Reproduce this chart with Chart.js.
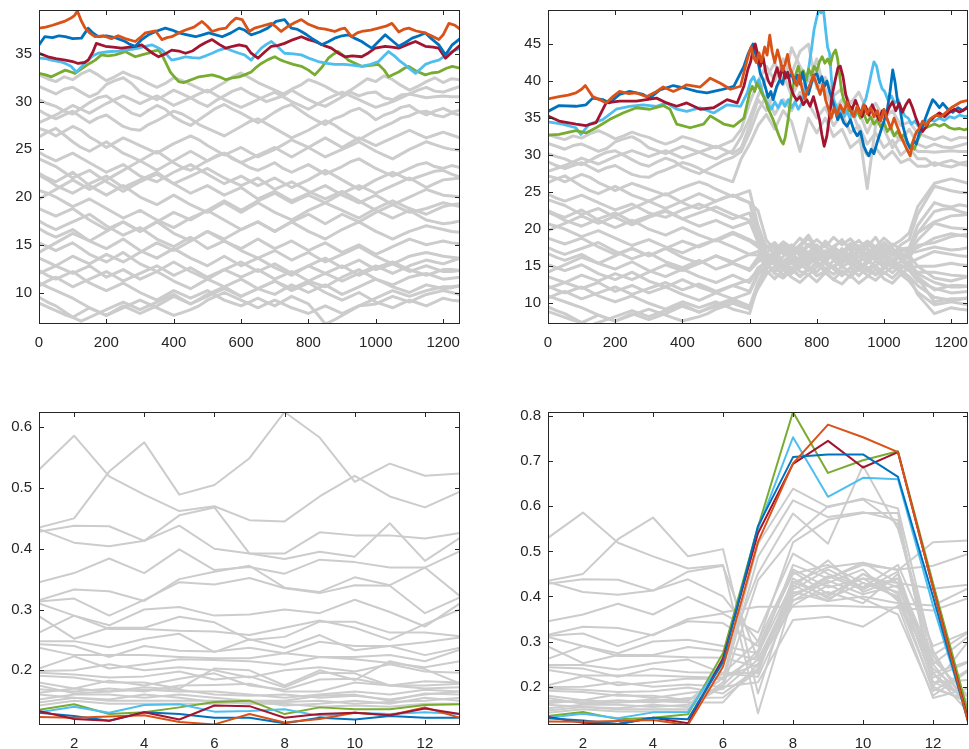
<!DOCTYPE html>
<html>
<head>
<meta charset="utf-8">
<script src="https://cdn.jsdelivr.net/npm/chart.js@4.4.1/dist/chart.umd.min.js"></script>
<style>
html, body { margin: 0; padding: 0; background: #ffffff; }
#wrap { position: relative; width: 969px; height: 749px; overflow: hidden; }
canvas { position: absolute; }
</style>
</head>
<body>
<div id="wrap">
  <canvas id="calmPrices" width="480" height="360" style="left:0px;top:0px"></canvas>
  <canvas id="stressPrices" width="469" height="360" style="left:500px;top:0px"></canvas>
  <canvas id="calmVol" width="480" height="349" style="left:0px;top:400px"></canvas>
  <canvas id="stressVol" width="469" height="349" style="left:500px;top:400px"></canvas>
</div>
<script>
// ---------- axis ticks ----------
const timeTicks = [0, 200, 400, 600, 800, 1000, 1200];
const calmPriceTicks = [10, 15, 20, 25, 30, 35];
const stressPriceTicks = [10, 15, 20, 25, 30, 35, 40, 45];
const windowTicks = [2, 4, 6, 8, 10, 12];
const calmVolTicks = [0.2, 0.3, 0.4, 0.5, 0.6];
const stressVolTicks = [0.2, 0.3, 0.4, 0.5, 0.6, 0.7, 0.8];

// ---------- price paths, background assets (sampled every 25 steps) ----------
const priceSteps = [0,25,50,75,100,125,150,175,200,225,250,275,300,325,350,375,400,425,450,475,500,525,550,575,600,625,650,675,700,725,750,775,800,825,850,875,900,925,950,975,1000,1025,1050,1075,1100,1125,1150,1175,1200,1225,1250];
const grayPrices = [
  [32.8,32.4,32.1,32.6,32.3,32.9,33.3,32.8,32.2,32.6,33.1,32.7,32.4,31.9,31.5,31.9,32.5,32.2,31.8,31.4,31.0,31.5,32.0,32.6,33.0,32.5,32.0,31.6,31.2,30.8,31.3,31.7,32.3,32.0,31.6,31.1,30.7,31.2,31.8,32.4,32.1,32.7,32.3,31.7,31.2,31.6,32.1,32.5,32.0,32.4,32.3],
  [31.6,31.2,30.8,31.3,31.5,31.0,30.5,30.9,31.8,32.2,32.5,31.9,31.0,30.6,30.2,30.7,31.2,30.8,30.4,29.9,29.5,30.1,30.6,31.1,31.4,30.9,30.5,30.0,30.3,30.6,31.2,30.7,30.2,29.8,29.5,30.0,30.5,31.0,30.6,30.9,31.0,30.4,30.2,30.7,30.8,31.2,31.5,31.1,31.0,31.3,31.6],
  [30.2,29.8,29.5,29.0,28.7,29.3,29.9,30.4,30.6,30.0,29.4,28.8,28.5,29.1,29.6,29.2,28.4,27.9,27.5,28.1,28.7,29.3,29.7,29.2,28.8,28.3,27.8,28.3,28.9,29.4,29.7,29.1,28.5,28.0,27.6,28.2,28.5,29.0,29.3,28.8,28.1,28.6,28.9,29.4,29.6,29.0,28.6,29.0,29.3,28.9,29.1],
  [29.1,28.6,28.2,28.6,29.0,28.4,27.8,28.3,28.6,28.0,27.4,27.1,27.0,27.6,28.0,28.5,29.0,28.7,28.2,27.6,27.2,26.8,26.4,26.9,27.4,27.9,28.2,27.7,27.2,26.7,26.2,26.6,27.0,27.5,28.0,27.6,27.0,26.5,26.0,26.5,27.0,27.4,27.8,28.3,28.5,28.9,29.0,28.6,28.4,28.8,28.6],
  [27.2,26.9,26.4,26.9,27.4,27.0,26.3,25.8,25.2,25.7,26.2,25.8,25.4,25.0,24.6,25.1,25.6,26.0,26.4,26.0,25.4,24.9,24.4,24.8,25.2,24.7,24.2,24.6,25.0,25.5,26.0,25.6,25.2,24.7,24.2,24.6,25.0,25.4,25.8,25.3,24.8,24.4,24.0,24.5,25.0,25.4,25.8,25.5,25.2,25.0,24.9],
  [26.3,26.8,27.2,26.5,25.8,25.2,24.8,25.3,25.8,25.2,24.6,24.2,23.8,24.3,24.8,24.2,23.6,23.1,22.8,23.3,23.8,24.3,24.6,24.0,23.6,23.1,22.8,23.2,23.6,23.0,22.6,23.0,23.4,22.9,22.4,22.8,23.2,23.7,24.0,23.5,23.0,22.6,22.2,22.6,23.0,23.4,23.6,23.2,23.0,23.3,23.1],
  [24.7,24.2,23.8,24.2,24.6,24.1,23.6,23.1,22.6,23.0,23.4,22.8,22.2,21.9,21.6,22.1,22.6,23.0,23.4,22.9,22.4,21.9,21.4,21.8,22.2,21.7,21.2,21.6,22.0,21.5,21.0,21.4,21.8,22.3,22.8,22.3,21.8,21.3,20.8,21.3,21.8,22.2,22.6,22.2,21.8,22.1,22.4,22.7,22.8,22.4,22.1],
  [24.0,23.6,23.2,22.6,22.0,22.4,22.8,22.2,21.6,21.1,20.6,21.1,21.6,22.0,22.4,21.9,21.4,20.9,20.4,20.8,21.2,20.7,20.2,20.6,21.0,20.4,19.8,20.2,20.6,20.1,19.6,20.0,20.4,20.8,21.2,20.7,20.2,19.8,19.4,19.8,20.2,19.7,19.2,19.6,20.0,20.4,20.8,20.5,20.2,20.1,20.0],
  [22.5,22.0,21.6,22.1,22.6,21.9,21.2,20.7,20.2,20.7,21.2,20.6,20.0,19.6,19.2,19.7,20.2,19.7,19.2,18.8,18.4,18.9,19.4,18.9,18.4,18.9,19.4,18.9,18.4,18.0,17.6,18.1,18.6,19.0,19.4,19.0,18.6,18.2,17.8,18.3,18.8,19.2,19.6,19.2,18.8,18.5,18.2,18.6,19.0,19.2,19.3],
  [22.3,21.8,21.2,20.8,20.4,20.9,21.4,21.8,22.2,21.6,21.0,21.4,21.8,22.2,22.6,22.0,21.4,21.8,22.2,22.6,23.0,22.5,22.0,21.6,21.2,21.6,22.0,21.4,20.8,21.2,21.6,21.1,20.6,20.2,19.8,20.2,20.6,20.1,19.6,19.1,18.6,18.2,17.8,18.2,18.6,18.1,17.6,17.4,17.2,17.3,17.5],
  [20.7,20.4,20.0,19.5,19.0,19.4,19.8,19.3,18.8,18.3,17.8,18.2,18.6,18.1,17.6,17.2,16.8,17.3,17.8,18.2,18.6,18.1,17.6,17.1,16.6,17.0,17.4,16.9,16.4,16.9,17.4,16.9,16.4,16.0,15.6,16.1,16.6,17.0,17.4,16.9,16.4,16.0,15.6,16.0,16.4,16.7,17.0,16.8,16.6,16.4,16.3],
  [18.8,18.4,18.0,18.4,18.8,18.2,17.6,17.1,16.6,17.0,17.4,16.9,16.4,16.9,17.4,16.8,16.2,15.8,15.4,15.9,16.4,15.9,15.4,15.0,14.6,15.1,15.6,15.1,14.6,15.0,15.4,14.9,14.4,14.8,15.2,14.7,14.2,14.6,15.0,14.5,14.0,14.4,14.8,15.2,15.6,15.3,15.0,15.2,15.4,15.2,15.1],
  [17.5,17.0,16.6,17.0,17.4,17.8,18.2,17.6,17.0,16.5,16.0,16.4,16.8,16.2,15.6,15.2,14.8,15.3,15.8,15.2,14.6,15.0,15.4,14.9,14.4,14.0,13.6,14.0,14.4,13.9,13.4,13.8,14.2,13.7,13.2,13.6,14.0,14.4,14.8,14.3,13.8,13.4,13.0,13.4,13.8,14.0,14.2,14.0,13.8,13.7,13.6],
  [16.7,16.2,15.8,16.2,16.6,16.0,15.4,15.0,14.6,15.1,15.6,15.0,14.4,14.0,13.6,14.1,14.6,14.1,13.6,13.2,12.8,13.3,13.8,13.3,12.8,13.2,13.6,13.1,12.6,12.2,11.8,12.3,12.8,12.4,12.0,12.4,12.8,12.3,11.8,12.2,12.6,12.9,13.2,12.8,12.4,12.1,11.8,12.1,12.4,12.4,12.3],
  [15.2,14.8,14.4,14.8,15.2,14.6,14.0,13.6,13.2,13.7,14.2,13.6,13.0,12.6,12.2,12.7,13.2,12.7,12.2,11.8,11.4,11.9,12.4,12.0,11.6,12.0,12.4,11.9,11.4,11.8,12.2,11.7,11.2,10.9,10.6,11.1,11.6,12.0,12.4,11.9,11.4,11.1,10.8,11.2,11.6,11.8,12.0,11.7,11.4,11.5,11.6],
  [13.6,13.2,12.8,12.4,12.0,12.4,12.8,12.2,11.6,12.0,12.4,11.9,11.4,11.8,12.2,11.7,11.2,10.8,10.4,10.9,11.4,11.0,10.6,11.0,11.4,10.9,10.4,10.1,9.8,10.3,10.8,10.4,10.0,10.4,10.8,10.3,9.8,10.2,10.6,11.0,11.4,11.0,10.6,10.3,10.0,10.4,10.8,10.6,10.4,10.5,10.7],
  [12.3,11.8,11.4,11.8,12.2,11.6,11.0,10.6,10.2,10.6,11.0,10.5,10.0,9.6,9.2,9.7,10.2,9.8,9.4,9.8,10.2,9.7,9.2,8.9,8.6,9.0,9.4,9.0,8.6,9.1,9.6,9.2,8.8,7.8,6.7,7.1,7.6,8.1,8.6,8.7,8.8,9.2,9.6,9.3,9.0,9.4,9.8,10.0,10.2,10.0,9.8],
  [11.0,10.6,10.2,9.8,9.4,8.9,8.4,8.0,7.6,8.1,8.6,8.2,7.8,8.2,8.6,9.1,9.6,9.2,8.8,9.3,9.8,10.2,10.6,10.1,9.6,10.0,10.4,10.8,11.2,10.7,10.2,10.6,11.0,10.5,10.0,9.6,9.2,9.6,10.0,9.5,9.0,8.7,8.4,8.8,9.2,8.9,8.6,9.0,9.4,9.2,9.1],
  [10.7,11.2,11.6,11.1,10.6,11.0,11.4,11.8,12.2,11.7,11.2,11.6,12.0,12.4,12.8,12.3,11.8,12.2,12.6,12.1,11.6,12.0,12.4,12.8,13.2,12.7,12.2,12.6,13.0,12.5,12.0,12.4,12.8,13.2,13.6,13.1,12.6,13.0,13.4,12.9,12.4,12.7,13.0,12.6,12.2,12.5,12.8,12.5,12.2,12.2,12.3],
  [9.5,9.0,8.6,8.0,7.4,7.0,7.4,7.8,8.2,8.6,9.0,8.6,8.2,8.6,9.0,9.4,9.8,9.3,8.8,9.2,9.6,10.0,10.4,10.0,9.6,10.0,10.4,10.8,11.2,10.8,10.4,10.8,11.2,11.6,12.0,11.6,11.2,11.6,12.0,12.4,12.8,12.4,12.0,12.4,12.8,13.1,13.4,13.2,13.0,13.3,13.6],
  [8.9,8.5,8.1,7.7,7.4,7.9,8.4,8.0,7.6,8.0,8.4,8.8,9.2,8.8,8.4,8.0,7.6,7.9,8.2,8.6,9.2,9.6,10.0,9.6,9.2,8.8,8.4,8.8,9.2,8.8,8.4,8.1,7.8,8.2,8.6,8.2,7.8,8.2,8.6,9.0,9.4,9.8,10.2,9.9,9.6,9.9,10.2,10.4,10.6,10.6,10.7],
  [19.8,20.3,20.8,21.3,21.8,21.3,20.8,21.3,21.8,22.3,22.8,23.3,23.8,23.3,22.8,23.3,23.8,24.3,24.8,24.3,23.8,24.2,24.6,24.1,23.6,24.0,24.4,24.8,25.2,24.7,24.2,24.7,25.2,25.7,26.2,25.7,25.2,25.7,26.2,25.8,25.4,25.8,26.2,26.6,27.0,26.6,26.2,26.5,26.8,26.5,26.2],
  [14.2,14.7,15.2,15.7,16.2,15.8,15.4,15.9,16.4,16.9,17.4,16.9,16.4,16.9,17.4,17.9,18.4,18.0,17.6,18.1,18.6,19.1,19.6,19.1,18.6,19.1,19.6,20.0,20.4,19.9,19.4,19.8,20.2,19.8,19.4,19.9,20.4,20.8,21.2,20.8,20.4,20.8,21.2,21.6,22.0,21.5,21.0,21.4,21.8,21.9,22.0],
  [27.8,28.2,28.6,29.1,29.6,29.2,28.8,29.3,29.8,30.2,30.6,30.2,29.8,30.2,30.6,30.1,29.6,30.0,30.4,30.8,31.2,30.7,30.2,29.8,29.4,29.8,30.2,30.6,31.0,30.5,30.0,29.6,29.2,29.7,30.2,30.6,31.0,30.6,30.2,29.8,29.4,29.7,30.0,30.4,30.8,30.6,30.4,30.5,30.6,30.5,30.5],
  [12.0,12.4,12.8,13.3,13.8,13.4,13.0,13.5,14.0,13.6,13.2,13.7,14.2,14.7,15.2,14.8,14.4,14.9,15.4,15.9,16.4,16.0,15.6,16.1,16.6,17.0,17.4,16.9,16.4,16.9,17.4,17.8,18.2,17.7,17.2,17.7,18.2,17.8,17.4,17.9,18.4,18.8,19.2,18.8,18.4,18.6,18.8,19.1,19.4,19.2,19.0]
];

// stressed period: assets that rally with the highlighted group (rows 0,1,2,3,23)
const rallyRows = [0, 1, 2, 3, 23];
const rallySteps = [575,600,625,650,675,700,725,750,775,800,825,850,875,900,925,950,975,1000,1025,1050,1075,1100,1125];
const rallyPrices = [
  [33.5,37.0,40.0,42.0,40.0,43.0,41.0,44.0,45.0,39.0,40.5,38.0,39.0,37.0,38.5,36.0,37.0,35.0,36.0,34.0,34.5,33.0,32.5],
  [32.5,35.0,38.0,40.5,42.5,39.5,44.5,42.0,40.0,43.0,38.0,37.0,35.0,36.5,33.5,25.5,34.0,36.0,33.0,32.0,33.5,31.5,31.0],
  [30.5,33.0,36.0,38.0,35.5,37.5,36.0,38.5,37.0,35.0,36.5,34.0,35.5,33.0,34.0,31.5,33.0,31.0,32.0,30.0,31.0,29.5,29.5],
  [29.5,31.5,34.0,35.5,33.5,36.0,34.5,30.5,35.0,33.0,35.0,32.5,33.5,31.0,32.0,30.0,31.0,29.5,30.5,29.0,29.5,28.5,28.5],
  [31.0,34.0,37.5,36.0,38.5,41.0,38.0,40.0,38.5,41.5,39.0,36.0,37.5,35.0,36.0,33.0,35.5,33.5,31.0,32.5,31.5,30.5,30.5]
];
// stressed period: all other background assets pulled into a tight band
const bandSteps = [625,650,675,700,725,750,775,800,825,850,875,900,925,950,975,1000,1025,1050,1075,1100];
const bandPrices = [
  [20.5,17.4,18.2,16.8,17.6,16.4,17.8,16.9,18.4,17.2,16.5,17.8,16.8,17.5,16.2,17.3,16.6,17.9,18.6,22.0],
  [19.5,16.8,15.9,17.2,16.1,17.5,16.3,15.6,16.8,15.9,17.4,16.2,15.5,16.7,17.6,16.0,15.4,16.9,17.5,20.5],
  [19.0,16.2,17.0,15.6,16.6,15.3,16.4,17.3,15.9,16.8,15.6,16.9,17.8,15.8,16.5,15.2,16.8,16.0,17.0,19.5],
  [18.2,15.6,16.6,17.6,15.4,16.2,15.1,16.3,15.4,17.0,16.1,15.2,16.4,15.5,17.1,16.3,15.3,16.5,16.8,18.5],
  [17.6,16.0,15.2,16.3,17.4,16.6,15.5,16.8,17.9,16.2,15.3,16.5,15.6,16.9,15.8,16.6,17.5,15.9,16.2,17.8],
  [19.2,17.8,16.6,18.1,16.9,17.9,19.2,17.4,16.3,17.5,18.6,17.1,16.2,17.6,18.9,17.2,16.4,17.3,16.8,17.0],
  [17.0,15.4,16.5,15.2,16.1,14.8,15.7,16.6,15.3,14.9,16.2,15.4,14.6,15.8,15.0,16.3,15.1,14.7,15.4,16.0],
  [16.2,15.1,14.3,15.5,14.6,15.8,14.9,14.2,15.6,14.8,15.9,16.7,15.2,14.5,15.7,14.9,15.8,15.1,14.6,15.0],
  [15.6,16.5,15.4,14.6,15.9,15.1,16.2,15.3,14.5,15.8,14.9,15.6,14.4,15.4,16.4,15.5,14.8,15.7,15.0,14.2],
  [14.8,15.5,14.2,15.1,14.0,15.3,14.4,15.6,14.7,13.9,15.0,14.1,15.2,14.3,15.1,14.0,14.9,14.2,14.6,13.6],
  [14.2,14.9,15.8,14.5,15.5,14.3,13.8,14.9,15.9,14.6,13.7,14.8,15.7,14.4,13.9,15.0,14.1,15.2,14.4,13.0],
  [13.8,15.2,14.0,13.4,14.5,13.6,14.8,13.7,14.3,13.2,14.4,13.5,14.7,13.8,13.1,14.2,13.4,14.5,13.6,12.4],
  [12.5,14.4,13.3,14.6,13.5,12.8,13.9,12.9,14.1,13.2,12.6,13.8,12.7,13.6,14.6,13.3,12.7,13.9,13.0,11.5],
  [12.0,13.9,15.0,13.8,14.9,13.6,14.5,15.4,14.2,15.1,13.9,14.8,13.7,14.9,13.8,14.7,15.6,14.3,13.5,11.2],
  [14.5,15.8,16.8,15.6,16.7,15.8,16.9,15.9,17.1,16.2,17.3,16.1,17.2,16.4,17.5,16.3,17.1,16.0,15.5,14.0],
  [12.8,15.0,16.2,17.4,16.5,17.6,18.8,17.3,16.6,17.7,18.4,17.5,16.9,18.1,17.0,18.2,17.3,16.6,16.5,15.0],
  [12.2,14.6,16.0,15.1,16.4,17.2,16.1,17.0,16.3,17.6,16.5,15.8,17.0,16.1,17.3,16.6,15.9,16.8,16.0,13.5],
  [22.5,18.5,17.2,18.3,17.5,18.8,17.7,18.6,17.6,18.9,17.9,18.7,17.5,18.4,17.6,18.8,17.8,18.5,19.5,23.0],
  [18.0,16.8,17.8,16.7,17.9,16.9,18.0,17.1,16.4,17.6,16.8,18.1,17.2,16.5,17.7,16.9,18.0,17.3,17.5,19.5],
  [16.5,15.8,16.9,17.8,16.6,17.7,16.8,17.9,16.7,17.5,16.4,17.6,18.5,17.3,16.6,17.8,16.9,17.4,17.2,17.5]
];

// ---------- highlighted assets, calm scenario: [step, price] ----------
const orangeCalm = [[0,37.7],[20,37.8],[40,38.0],[57,38.2],[75,38.4],[95,38.75],[105,39.0],[114,39.5],[125,38.5],[137,37.7],[150,37.2],[167,36.8],[190,36.9],[215,36.6],[235,36.9],[256,36.6],[286,36.3],[300,36.7],[316,37.2],[346,37.4],[365,36.5],[380,36.7],[394,36.8],[415,37.2],[435,37.5],[460,37.8],[484,38.4],[500,37.9],[514,37.35],[535,37.6],[555,37.7],[570,38.3],[585,38.75],[603,38.6],[624,37.35],[640,37.7],[660,37.9],[690,38.2],[705,37.8],[719,37.35],[740,37.9],[760,38.3],[779,38.6],[800,38.1],[829,37.7],[850,37.6],[878,37.35],[895,37.6],[908,37.7],[928,36.8],[945,37.2],[958,37.35],[985,37.5],[1008,37.7],[1030,37.9],[1048,38.2],[1068,37.3],[1085,37.6],[1098,37.7],[1120,37.4],[1147,37.2],[1165,36.9],[1187,36.5],[1200,37.0],[1217,38.2],[1235,38.0],[1250,37.6]];
const blueCalm = [[0,35.95],[17,36.8],[40,36.7],[60,36.9],[78,36.8],[100,36.6],[126,36.65],[146,37.7],[160,37.2],[176,36.8],[200,36.9],[226,36.7],[256,36.3],[270,36.0],[286,35.8],[305,36.5],[325,37.0],[350,37.4],[375,37.7],[395,37.5],[415,37.2],[440,37.0],[465,36.8],[485,37.0],[504,37.2],[525,37.0],[544,36.8],[570,37.2],[594,37.7],[610,37.5],[630,37.0],[655,37.3],[679,37.7],[704,38.4],[729,38.6],[749,37.7],[765,37.6],[779,37.35],[795,37.0],[809,36.65],[825,36.3],[839,35.95],[860,36.3],[878,36.65],[900,36.9],[918,37.0],[940,36.6],[958,36.3],[975,35.9],[988,35.6],[1008,36.3],[1028,37.0],[1048,36.4],[1068,35.8],[1088,36.2],[1108,36.65],[1128,36.9],[1147,37.2],[1165,36.6],[1187,35.95],[1207,34.9],[1227,35.95],[1250,36.6]];
const redCalm = [[0,35.07],[27,34.7],[50,34.5],[78,34.35],[100,34.2],[116,34.0],[135,34.1],[146,34.35],[160,35.2],[170,36.1],[197,35.8],[220,35.7],[245,35.6],[286,35.8],[305,35.95],[325,35.4],[340,35.0],[355,34.7],[375,35.0],[394,35.4],[415,35.3],[435,35.07],[455,35.3],[475,35.8],[495,36.2],[514,36.5],[535,36.0],[555,35.6],[575,35.8],[594,35.95],[615,35.8],[630,35.07],[650,34.55],[670,35.2],[690,35.8],[710,35.9],[729,36.1],[755,36.5],[779,36.8],[800,36.5],[819,36.3],[845,35.9],[868,35.6],[888,35.1],[908,34.7],[930,34.8],[958,34.7],[978,35.1],[998,35.6],[1028,35.8],[1048,35.7],[1068,35.6],[1095,36.0],[1118,36.3],[1147,35.8],[1170,35.7],[1187,35.6],[1207,34.55],[1227,35.2],[1250,35.9]];
const skyCalm = [[0,34.55],[20,34.5],[37,34.35],[60,34.2],[78,34.0],[95,33.7],[111,33.1],[130,33.8],[146,34.35],[160,34.8],[176,35.07],[200,35.2],[215,35.25],[235,35.3],[256,35.4],[280,35.5],[296,35.6],[315,35.8],[335,35.95],[350,35.7],[365,35.4],[380,34.9],[394,34.35],[415,34.5],[435,34.7],[455,34.6],[475,34.55],[495,34.8],[514,35.07],[535,35.4],[555,35.6],[575,35.3],[594,35.07],[610,34.9],[630,34.35],[645,35.0],[660,35.6],[675,36.0],[690,36.3],[710,35.7],[729,35.07],[755,35.0],[779,34.9],[805,34.5],[829,34.2],[855,34.0],[878,33.9],[908,33.9],[935,33.8],[958,33.7],[985,33.9],[1008,34.2],[1025,34.8],[1038,35.25],[1055,34.8],[1068,34.35],[1085,33.9],[1098,33.5],[1118,32.96],[1135,33.5],[1147,33.9],[1170,34.2],[1187,34.35],[1210,34.9],[1227,35.25],[1250,35.6]];
const greenCalm = [[0,32.96],[20,32.8],[37,32.6],[60,33.0],[78,33.3],[95,33.1],[107,32.96],[125,33.4],[137,33.7],[150,34.0],[167,34.35],[185,34.9],[205,34.8],[226,34.9],[245,35.1],[256,35.25],[270,35.0],[286,34.7],[305,34.9],[325,35.07],[340,35.3],[355,35.4],[365,34.9],[375,34.2],[390,33.1],[402,32.6],[415,32.1],[430,32.0],[445,32.2],[460,32.4],[475,32.6],[495,32.7],[514,32.8],[535,32.6],[555,32.3],[575,32.5],[594,32.6],[610,32.8],[630,33.1],[645,33.6],[660,34.0],[680,34.4],[700,34.7],[715,34.4],[729,34.2],[755,33.9],[779,33.7],[800,33.3],[819,32.8],[840,33.6],[859,34.55],[875,35.0],[888,35.25],[905,34.8],[918,34.35],[940,34.0],[958,33.7],[985,33.8],[1008,33.9],[1025,33.3],[1038,32.6],[1055,32.9],[1068,33.1],[1085,33.5],[1098,33.7],[1120,33.2],[1147,32.8],[1165,33.0],[1187,33.1],[1210,33.5],[1227,33.7],[1250,33.5]];

// ---------- highlighted assets, stressed scenario: [step, price] ----------
const orangeStress = [[0,37.6],[33,37.9],[60,38.1],[83,38.4],[100,38.9],[111,39.4],[133,37.9],[153,37.5],[173,37.05],[193,37.9],[213,38.6],[240,38.3],[263,38.4],[293,37.9],[323,38.6],[343,39.2],[373,38.6],[393,39.0],[413,39.5],[453,39.2],[483,40.4],[513,39.7],[543,38.9],[573,39.3],[585,41.5],[593,42.9],[600,44.0],[605,44.6],[612,43.2],[620,42.5],[628,43.8],[635,42.6],[645,44.6],[652,43.5],[660,46.2],[667,44.0],[675,42.5],[683,44.2],[690,43.0],[698,41.4],[705,42.2],[713,43.6],[720,41.8],[730,40.6],[740,39.4],[748,40.8],[756,39.0],[765,37.6],[772,38.8],[780,39.6],[790,40.8],[800,39.5],[810,38.2],[818,39.6],[826,37.5],[835,36.2],[843,35.0],[852,36.4],[860,35.4],[870,36.8],[880,35.8],[890,37.2],[900,36.0],[910,35.2],[920,36.6],[930,35.4],[940,36.8],[950,35.6],[960,36.4],[970,35.2],[980,36.0],[990,34.6],[1000,36.2],[1010,34.8],[1020,33.6],[1030,35.0],[1040,33.8],[1050,32.6],[1060,31.6],[1068,30.8],[1078,29.9],[1086,31.8],[1095,33.0],[1105,33.6],[1115,34.6],[1125,34.0],[1140,35.0],[1155,35.4],[1170,35.2],[1185,35.8],[1200,36.4],[1215,36.8],[1230,37.2],[1250,37.4]];
const blueStress = [[0,35.9],[33,36.7],[83,36.6],[113,36.8],[133,37.7],[163,37.5],[183,37.05],[213,38.2],[243,38.6],[283,38.2],[303,37.7],[333,38.8],[373,39.4],[403,39.1],[443,38.6],[473,38.4],[513,38.8],[553,39.3],[583,42.0],[595,43.6],[603,44.4],[610,45.0],[618,43.6],[625,42.6],[632,41.0],[640,40.2],[648,39.0],[655,37.8],[663,38.6],[670,37.5],[680,39.2],[690,40.2],[698,39.6],[706,41.2],[715,40.4],[725,41.0],[733,39.8],[742,40.8],[750,39.6],[758,41.2],[766,39.4],[775,38.2],[783,39.6],[792,40.8],[800,41.0],[808,39.8],[815,40.6],[823,39.3],[830,40.0],[838,38.6],[846,37.5],[855,36.0],[862,34.8],[870,35.6],[880,34.4],[890,33.9],[900,34.8],[910,33.4],[920,32.6],[930,33.2],[940,31.2],[948,30.4],[955,29.9],[962,30.8],[970,30.2],[980,31.8],[990,33.2],[1000,34.6],[1010,36.2],[1018,38.6],[1026,41.5],[1033,39.8],[1040,37.4],[1048,36.2],[1056,34.0],[1064,32.6],[1072,31.4],[1080,30.8],[1088,32.0],[1096,31.5],[1105,33.0],[1115,33.9],[1125,35.2],[1135,36.4],[1145,37.5],[1155,37.0],[1165,36.4],[1175,37.0],[1190,36.2],[1205,35.8],[1220,36.4],[1235,36.0],[1250,36.6]];
const redStress = [[0,35.3],[33,34.6],[83,34.2],[113,34.0],[143,34.4],[173,37.05],[213,37.3],[263,37.3],[293,37.5],[323,37.7],[353,37.05],[383,36.6],[413,37.05],[453,36.2],[493,36.4],[533,37.5],[563,37.05],[583,39.3],[595,41.6],[603,42.6],[610,44.2],[617,45.0],[625,43.4],[632,42.0],[640,43.3],[648,41.2],[656,40.0],[665,39.3],[673,40.6],[682,41.8],[690,40.4],[698,42.0],[706,40.4],[714,41.2],[722,39.2],[730,38.2],[740,37.4],[750,37.9],[760,36.8],[770,37.5],[780,36.6],[790,37.9],[800,36.2],[808,34.8],[815,32.8],[822,31.2],[830,32.6],[838,35.4],[846,38.2],[855,40.2],[863,41.8],[870,42.0],[878,40.6],[886,38.2],[895,36.8],[905,36.2],[915,37.4],[925,36.2],[935,35.2],[945,36.6],[955,35.4],[965,36.8],[975,35.8],[985,34.8],[995,36.0],[1005,35.2],[1015,36.4],[1025,37.2],[1035,36.0],[1045,37.0],[1055,35.8],[1065,36.8],[1075,37.5],[1085,36.4],[1095,35.0],[1105,33.9],[1115,33.2],[1125,33.8],[1135,34.6],[1150,35.2],[1165,35.7],[1180,35.2],[1195,35.8],[1210,36.2],[1225,35.8],[1240,36.2],[1250,36.4]];
const skyStress = [[0,34.5],[43,34.2],[83,33.7],[98,32.8],[123,34.2],[163,34.8],[203,36.2],[243,36.6],[283,36.8],[323,36.6],[353,37.05],[383,36.2],[413,35.9],[453,36.4],[493,35.7],[533,36.8],[573,36.6],[593,38.4],[603,40.0],[612,40.6],[620,39.6],[628,40.2],[636,38.8],[645,37.6],[655,36.8],[665,36.2],[675,37.2],[685,36.4],[695,37.4],[705,36.6],[715,37.5],[725,36.4],[735,37.2],[745,36.2],[755,37.0],[763,38.6],[770,40.2],[778,42.4],[785,44.6],[792,47.0],[800,48.6],[806,49.6],[813,49.2],[820,49.6],[826,47.0],[832,44.6],[838,43.75],[844,40.0],[850,37.5],[858,36.6],[866,35.4],[874,36.2],[882,35.2],[890,36.0],[898,35.0],[906,36.0],[914,35.2],[922,36.4],[930,35.6],[938,36.8],[946,37.6],[954,39.2],[962,41.0],[970,42.6],[978,42.0],[986,40.2],[994,39.0],[1002,38.6],[1012,37.4],[1022,38.0],[1032,37.0],[1042,37.5],[1052,36.2],[1062,35.3],[1072,35.0],[1082,34.2],[1092,34.6],[1102,33.9],[1112,33.6],[1122,34.4],[1135,34.8],[1150,34.6],[1165,35.0],[1180,34.7],[1195,35.2],[1210,35.0],[1225,35.4],[1240,35.2],[1250,35.3]];
const greenStress = [[0,32.7],[33,32.8],[83,33.3],[113,33.0],[143,33.7],[183,34.8],[223,35.7],[263,36.4],[303,36.2],[343,36.7],[363,36.2],[383,34.2],[423,33.7],[463,34.2],[483,35.3],[523,34.2],[553,33.9],[583,35.0],[592,36.8],[600,38.4],[608,39.3],[615,38.6],[622,39.7],[630,39.0],[638,38.2],[646,37.5],[654,36.4],[662,35.6],[670,34.8],[678,33.8],[686,32.8],[694,31.9],[700,31.5],[706,32.4],[714,34.6],[722,37.5],[730,39.4],[738,41.0],[745,42.0],[752,40.6],[760,41.4],[768,40.2],[776,41.6],[784,40.8],[792,42.0],[800,41.4],[808,42.6],[816,43.3],[824,42.4],[832,43.0],[840,42.2],[848,43.6],[856,44.2],[862,43.0],[868,40.8],[874,38.6],[880,37.5],[888,36.8],[896,36.0],[904,36.4],[912,35.4],[920,36.0],[930,35.0],[940,35.6],[950,34.4],[960,35.2],[970,34.2],[980,34.8],[990,33.8],[1000,34.4],[1010,33.2],[1020,33.8],[1030,32.6],[1040,33.2],[1050,32.4],[1060,32.8],[1070,31.6],[1080,31.2],[1090,30.8],[1100,32.0],[1110,33.0],[1120,33.6],[1135,33.9],[1150,34.2],[1165,33.9],[1180,34.2],[1195,33.7],[1210,33.5],[1225,33.6],[1240,33.4],[1250,33.6]];

// ---------- per-window volatility ----------
const windows = [1,2,3,4,5,6,7,8,9,10,11,12,13];
const grayVolCalm = [
  [0.530,0.586,0.519,0.489,0.462,0.470,0.447,0.445,0.486,0.520,0.486,0.468,0.494],
  [0.435,0.450,0.527,0.575,0.489,0.505,0.549,0.625,0.583,0.510,0.540,0.520,0.524],
  [0.428,0.438,0.437,0.413,0.438,0.400,0.392,0.392,0.427,0.422,0.422,0.417,0.426],
  [0.432,0.410,0.404,0.413,0.455,0.468,0.392,0.383,0.395,0.387,0.442,0.380,0.418],
  [0.345,0.360,0.384,0.360,0.399,0.365,0.370,0.359,0.382,0.378,0.369,0.369,0.396],
  [0.315,0.333,0.330,0.314,0.350,0.362,0.372,0.336,0.329,0.353,0.340,0.369,0.322],
  [0.313,0.318,0.290,0.316,0.345,0.341,0.352,0.335,0.327,0.340,0.339,0.294,0.320],
  [0.310,0.290,0.274,0.300,0.304,0.290,0.292,0.300,0.294,0.316,0.296,0.272,0.310],
  [0.289,0.252,0.270,0.270,0.288,0.279,0.250,0.255,0.280,0.280,0.262,0.262,0.256],
  [0.262,0.290,0.268,0.268,0.265,0.264,0.258,0.270,0.282,0.270,0.250,0.276,0.300],
  [0.248,0.248,0.238,0.252,0.260,0.230,0.251,0.237,0.258,0.233,0.240,0.246,0.254],
  [0.243,0.240,0.222,0.240,0.232,0.231,0.237,0.228,0.247,0.240,0.240,0.225,0.237],
  [0.237,0.225,0.225,0.225,0.222,0.220,0.220,0.228,0.222,0.222,0.225,0.215,0.234],
  [0.203,0.223,0.203,0.210,0.218,0.217,0.215,0.209,0.222,0.218,0.212,0.205,0.215],
  [0.199,0.200,0.210,0.200,0.205,0.200,0.188,0.200,0.205,0.198,0.210,0.198,0.196],
  [0.196,0.193,0.188,0.190,0.198,0.185,0.190,0.172,0.196,0.195,0.175,0.182,0.180],
  [0.191,0.188,0.180,0.180,0.170,0.203,0.200,0.175,0.200,0.184,0.215,0.202,0.178],
  [0.180,0.170,0.183,0.175,0.186,0.195,0.175,0.168,0.185,0.186,0.175,0.175,0.178],
  [0.169,0.165,0.170,0.165,0.175,0.176,0.178,0.165,0.165,0.180,0.175,0.170,0.172],
  [0.163,0.170,0.165,0.168,0.165,0.165,0.160,0.155,0.160,0.165,0.160,0.168,0.165],
  [0.152,0.160,0.160,0.155,0.160,0.155,0.150,0.150,0.158,0.160,0.150,0.162,0.160],
  [0.147,0.155,0.150,0.150,0.150,0.150,0.148,0.148,0.150,0.145,0.148,0.150,0.155],
  [0.142,0.150,0.145,0.145,0.145,0.145,0.150,0.142,0.145,0.150,0.145,0.155,0.150],
  [0.160,0.155,0.152,0.160,0.155,0.148,0.145,0.145,0.140,0.142,0.140,0.145,0.145],
  [0.175,0.162,0.165,0.172,0.168,0.160,0.158,0.160,0.155,0.158,0.152,0.160,0.165]
];
// stressed scenario, windows 6..12 (windows 1..5 and 13 are unchanged)
const grayVolStressMid = [
  [0.470,0.141,0.400,0.440,0.470,0.460,0.468],
  [0.505,0.185,0.430,0.465,0.475,0.458,0.520],
  [0.400,0.300,0.460,0.420,0.440,0.430,0.417],
  [0.468,0.260,0.410,0.390,0.400,0.385,0.380],
  [0.365,0.377,0.377,0.380,0.377,0.375,0.369],
  [0.362,0.320,0.495,0.450,0.420,0.470,0.290],
  [0.341,0.290,0.450,0.470,0.430,0.400,0.270],
  [0.290,0.274,0.432,0.400,0.450,0.420,0.250],
  [0.279,0.259,0.421,0.480,0.410,0.440,0.230],
  [0.264,0.244,0.407,0.430,0.460,0.390,0.200],
  [0.230,0.222,0.392,0.410,0.385,0.450,0.220],
  [0.231,0.230,0.440,0.395,0.430,0.410,0.190],
  [0.220,0.250,0.380,0.425,0.395,0.360,0.180],
  [0.217,0.270,0.470,0.440,0.475,0.430,0.210],
  [0.200,0.210,0.348,0.355,0.333,0.380,0.175],
  [0.185,0.240,0.415,0.460,0.420,0.440,0.260],
  [0.203,0.280,0.455,0.405,0.440,0.395,0.240],
  [0.195,0.260,0.390,0.435,0.405,0.425,0.210],
  [0.176,0.235,0.425,0.390,0.450,0.405,0.195],
  [0.165,0.250,0.400,0.445,0.415,0.455,0.230],
  [0.220,0.517,0.639,0.598,0.617,0.595,0.270],
  [0.210,0.488,0.613,0.576,0.587,0.569,0.250],
  [0.250,0.451,0.584,0.517,0.690,0.550,0.280],
  [0.200,0.436,0.532,0.600,0.615,0.560,0.230],
  [0.230,0.300,0.520,0.570,0.585,0.585,0.200]
];
const orangeVolCalm = [0.123,0.122,0.124,0.126,0.115,0.111,0.128,0.114,0.120,0.130,0.126,0.139,0.122];
const blueVolCalm   = [0.130,0.125,0.117,0.131,0.128,0.122,0.122,0.113,0.122,0.119,0.125,0.122,0.122];
const redVolCalm    = [0.133,0.120,0.117,0.131,0.119,0.142,0.141,0.122,0.128,0.130,0.126,0.137,0.128];
const skyVolCalm    = [0.131,0.140,0.130,0.143,0.144,0.132,0.133,0.136,0.125,0.130,0.128,0.131,0.128];
const greenVolCalm  = [0.135,0.144,0.128,0.131,0.139,0.148,0.150,0.128,0.139,0.136,0.136,0.143,0.144];
const orangeVolStressMid = [0.244,0.521,0.695,0.781,0.753,0.720,0.420];
const blueVolStressMid   = [0.255,0.556,0.709,0.715,0.715,0.665,0.400];
const redVolStressMid    = [0.263,0.540,0.694,0.745,0.686,0.720,0.420];
const skyVolStressMid    = [0.260,0.550,0.753,0.621,0.663,0.660,0.380];
const greenVolStressMid  = [0.274,0.554,0.809,0.674,0.702,0.722,0.430];

// ---------- styling ----------
const GRAY = '#cccccc';
const COLORS = { orange: '#d95319', blue: '#0072bd', red: '#a2142f', sky: '#4dbeee', green: '#77ac30' };
const AXIS_COLOR = '#262626';
Chart.defaults.font.family = '"Liberation Sans", Arial, Helvetica, sans-serif';
Chart.defaults.font.size = 15;
Chart.defaults.color = AXIS_COLOR;

// ---------- helpers to assemble series ----------
const toPoints = (xs, ys) => xs.map((x, i) => ({ x, y: ys[i] }));
const pairPoints = pairs => pairs.map(p => ({ x: p[0], y: p[1] }));

function stressedGray(row) {
  const calm = grayPrices[row];
  const r = rallyRows.indexOf(row);
  let pts = [];
  if (r >= 0) {
    priceSteps.forEach((t, i) => { if (t <= 550) pts.push({ x: t, y: calm[i] }); });
    pts = pts.concat(toPoints(rallySteps, rallyPrices[r]));
  } else {
    const b = grayPrices.map((_, k) => k).filter(k => rallyRows.indexOf(k) < 0).indexOf(row);
    priceSteps.forEach((t, i) => { if (t <= 600) pts.push({ x: t, y: calm[i] }); });
    pts = pts.concat(toPoints(bandSteps, bandPrices[b]));
  }
  priceSteps.forEach((t, i) => { if (t >= 1150) pts.push({ x: t, y: calm[i] }); });
  return pts;
}
const stressedVol = (calm, mid) => calm.slice(0, 5).concat(mid, [calm[12]]);

function lineSet(points, color, width) {
  return { data: points, borderColor: color, backgroundColor: color, borderWidth: width,
           pointRadius: 0, tension: 0, fill: false, borderJoinStyle: 'round' };
}

// box around the plot area with inward tick marks on all four sides
const boxAxes = {
  id: 'boxAxes',
  afterDraw(chart) {
    const { ctx, chartArea: a, scales } = chart;
    const len = 5;
    ctx.save();
    ctx.strokeStyle = AXIS_COLOR;
    ctx.lineWidth = 1;
    ctx.beginPath();
    scales.x.ticks.forEach(t => {
      const p = Math.round(scales.x.getPixelForValue(t.value)) + 0.5;
      ctx.moveTo(p, a.bottom); ctx.lineTo(p, a.bottom - len);
      ctx.moveTo(p, a.top); ctx.lineTo(p, a.top + len);
    });
    scales.y.ticks.forEach(t => {
      const p = Math.round(scales.y.getPixelForValue(t.value)) + 0.5;
      ctx.moveTo(a.left, p); ctx.lineTo(a.left + len, p);
      ctx.moveTo(a.right, p); ctx.lineTo(a.right - len, p);
    });
    ctx.stroke();
    ctx.strokeRect(Math.round(a.left) + 0.5, Math.round(a.top) + 0.5,
                   Math.round(a.right - a.left) - 1, Math.round(a.bottom - a.top) - 1);
    ctx.restore();
  }
};

function makeChart(id, o) {
  new Chart(document.getElementById(id), {
    type: 'line',
    data: { datasets: o.datasets },
    options: {
      responsive: false, animation: false, events: [],
      layout: { padding: o.padding },
      plugins: { legend: { display: false }, tooltip: { enabled: false } },
      scales: {
        x: {
          type: 'linear', min: o.xMin, max: o.xMax,
          grid: { display: false, drawTicks: false }, border: { display: false },
          afterFit: s => { s.height = o.xAxisHeight; s.paddingLeft = 0; s.paddingRight = 0; },
          afterBuildTicks: s => { s.ticks = o.xTicks.map(v => ({ value: v })); },
          ticks: { padding: 10, maxRotation: 0, autoSkip: false, callback: v => String(v) }
        },
        y: {
          type: 'linear', min: o.yMin, max: o.yMax,
          grid: { display: false, drawTicks: false }, border: { display: false },
          afterFit: s => { s.width = o.yAxisWidth; s.paddingTop = 0; s.paddingBottom = 0; },
          afterBuildTicks: s => { s.ticks = o.yTicks.map(v => ({ value: v })); },
          ticks: { padding: 7, autoSkip: false, callback: v => String(v) }
        }
      }
    },
    plugins: [boxAxes]
  });
}

// ---------- datasets (first listed is drawn on top) ----------
const TOP_W = 2.8, GRAY_TOP_W = 3, BOT_W = 2;

const calmPriceSets = [
  lineSet(pairPoints(orangeCalm), COLORS.orange, TOP_W),
  lineSet(pairPoints(blueCalm), COLORS.blue, TOP_W),
  lineSet(pairPoints(redCalm), COLORS.red, TOP_W),
  lineSet(pairPoints(skyCalm), COLORS.sky, TOP_W),
  lineSet(pairPoints(greenCalm), COLORS.green, TOP_W)
].concat(grayPrices.map(row => lineSet(toPoints(priceSteps, row), GRAY, GRAY_TOP_W)));

const stressPriceSets = [
  lineSet(pairPoints(orangeStress), COLORS.orange, TOP_W),
  lineSet(pairPoints(redStress), COLORS.red, TOP_W),
  lineSet(pairPoints(blueStress), COLORS.blue, TOP_W),
  lineSet(pairPoints(greenStress), COLORS.green, TOP_W),
  lineSet(pairPoints(skyStress), COLORS.sky, TOP_W)
].concat(grayPrices.map((_, k) => lineSet(stressedGray(k), GRAY, GRAY_TOP_W)));

const calmVolSets = [
  lineSet(toPoints(windows, redVolCalm), COLORS.red, BOT_W),
  lineSet(toPoints(windows, orangeVolCalm), COLORS.orange, BOT_W),
  lineSet(toPoints(windows, blueVolCalm), COLORS.blue, BOT_W),
  lineSet(toPoints(windows, skyVolCalm), COLORS.sky, BOT_W),
  lineSet(toPoints(windows, greenVolCalm), COLORS.green, BOT_W)
].concat(grayVolCalm.map(row => lineSet(toPoints(windows, row), GRAY, BOT_W)));

const stressVolSets = [
  lineSet(toPoints(windows, stressedVol(orangeVolCalm, orangeVolStressMid)), COLORS.orange, BOT_W),
  lineSet(toPoints(windows, stressedVol(blueVolCalm, blueVolStressMid)), COLORS.blue, BOT_W),
  lineSet(toPoints(windows, stressedVol(redVolCalm, redVolStressMid)), COLORS.red, BOT_W),
  lineSet(toPoints(windows, stressedVol(skyVolCalm, skyVolStressMid)), COLORS.sky, BOT_W),
  lineSet(toPoints(windows, stressedVol(greenVolCalm, greenVolStressMid)), COLORS.green, BOT_W)
].concat(grayVolCalm.map((row, k) => lineSet(toPoints(windows, stressedVol(row, grayVolStressMid[k])), GRAY, BOT_W)));

makeChart('calmPrices', {
  datasets: calmPriceSets, padding: { left: 0, right: 20, top: 10, bottom: 0 },
  xMin: 0, xMax: 1250, yMin: 6.7, yMax: 39.6, xTicks: timeTicks, yTicks: calmPriceTicks,
  xAxisHeight: 36, yAxisWidth: 39
});
makeChart('stressPrices', {
  datasets: stressPriceSets, padding: { left: 0, right: 1, top: 10, bottom: 0 },
  xMin: 0, xMax: 1250, yMin: 7.2, yMax: 49.6, xTicks: timeTicks, yTicks: stressPriceTicks,
  xAxisHeight: 36, yAxisWidth: 48
});
makeChart('calmVol', {
  datasets: calmVolSets, padding: { left: 0, right: 20, top: 12, bottom: 0 },
  xMin: 1, xMax: 13, yMin: 0.11, yMax: 0.625, xTicks: windowTicks, yTicks: calmVolTicks,
  xAxisHeight: 24, yAxisWidth: 39
});
makeChart('stressVol', {
  datasets: stressVolSets, padding: { left: 0, right: 1, top: 12, bottom: 0 },
  xMin: 1, xMax: 13, yMin: 0.115, yMax: 0.809, xTicks: windowTicks, yTicks: stressVolTicks,
  xAxisHeight: 24, yAxisWidth: 48
});
</script>
</body>
</html>
